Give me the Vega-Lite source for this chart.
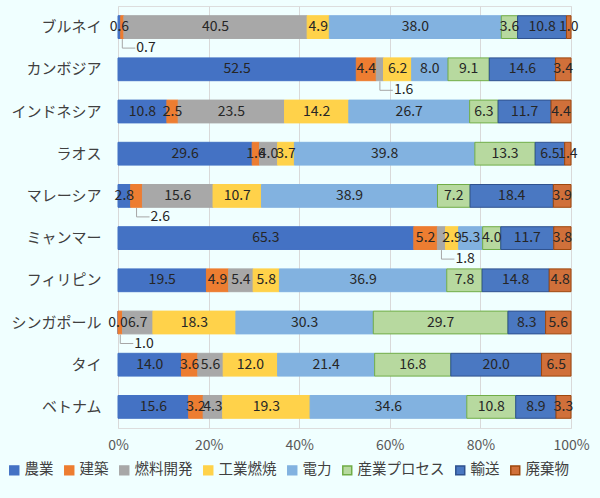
{
  "$schema": "https://vega.github.io/schema/vega-lite/v6.json",
  "width": 453,
  "height": 422,
  "autosize": "none",
  "padding": {"left": 118, "top": 6, "right": 29, "bottom": 70},
  "background": "#F0FFFF",
  "data": {
    "values": [
      {"country": "ブルネイ", "農業": 0.6, "建築": 0.7, "燃料開発": 40.5, "工業燃焼": 4.9, "電力": 38.0, "産業プロセス": 3.6, "輸送": 10.8, "廃棄物": 1.0},
      {"country": "カンボジア", "農業": 52.5, "建築": 4.4, "燃料開発": 1.6, "工業燃焼": 6.2, "電力": 8.0, "産業プロセス": 9.1, "輸送": 14.6, "廃棄物": 3.4},
      {"country": "インドネシア", "農業": 10.8, "建築": 2.5, "燃料開発": 23.5, "工業燃焼": 14.2, "電力": 26.7, "産業プロセス": 6.3, "輸送": 11.7, "廃棄物": 4.4},
      {"country": "ラオス", "農業": 29.6, "建築": 1.6, "燃料開発": 4.0, "工業燃焼": 3.7, "電力": 39.8, "産業プロセス": 13.3, "輸送": 6.5, "廃棄物": 1.4},
      {"country": "マレーシア", "農業": 2.8, "建築": 2.6, "燃料開発": 15.6, "工業燃焼": 10.7, "電力": 38.9, "産業プロセス": 7.2, "輸送": 18.4, "廃棄物": 3.9},
      {"country": "ミャンマー", "農業": 65.3, "建築": 5.2, "燃料開発": 1.8, "工業燃焼": 2.9, "電力": 5.3, "産業プロセス": 4.0, "輸送": 11.7, "廃棄物": 3.8},
      {"country": "フィリピン", "農業": 19.5, "建築": 4.9, "燃料開発": 5.4, "工業燃焼": 5.8, "電力": 36.9, "産業プロセス": 7.8, "輸送": 14.8, "廃棄物": 4.8},
      {"country": "シンガポール", "農業": 0.0, "建築": 1.0, "燃料開発": 6.7, "工業燃焼": 18.3, "電力": 30.3, "産業プロセス": 29.7, "輸送": 8.3, "廃棄物": 5.6},
      {"country": "タイ", "農業": 14.0, "建築": 3.6, "燃料開発": 5.6, "工業燃焼": 12.0, "電力": 21.4, "産業プロセス": 16.8, "輸送": 20.0, "廃棄物": 6.5},
      {"country": "ベトナム", "農業": 15.6, "建築": 3.2, "燃料開発": 4.3, "工業燃焼": 19.3, "電力": 34.6, "産業プロセス": 10.8, "輸送": 8.9, "廃棄物": 3.3}
    ]
  },
  "transform": [
    {"fold": ["農業", "建築", "燃料開発", "工業燃焼", "電力", "産業プロセス", "輸送", "廃棄物"], "as": ["key", "value"]},
    {"calculate": "indexof(['農業','建築','燃料開発','工業燃焼','電力','産業プロセス','輸送','廃棄物'], datum.key)", "as": "order"},
    {"stack": "value", "groupby": ["country"], "sort": [{"field": "order"}], "offset": "normalize", "as": ["x0", "x1"]},
    {"calculate": "(datum.x0 + datum.x1) / 2", "as": "mid"},
    {"calculate": "indexof(['ブルネイ|建築','カンボジア|燃料開発','マレーシア|建築','ミャンマー|燃料開発','シンガポール|建築'], datum.country + '|' + datum.key) >= 0", "as": "callout"}
  ],
  "encoding": {
    "y": {
      "field": "country",
      "type": "nominal",
      "sort": ["ブルネイ", "カンボジア", "インドネシア", "ラオス", "マレーシア", "ミャンマー", "フィリピン", "シンガポール", "タイ", "ベトナム"],
      "scale": {"paddingInner": 0.46, "paddingOuter": 0.23},
      "axis": {"title": null, "domain": false, "ticks": false, "labelPadding": 17, "labelFontSize": 15, "labelColor": "#404040", "labelFont": "Noto Sans CJK JP"}
    }
  },
  "layer": [
    {
      "mark": {"type": "bar", "strokeWidth": 1},
      "encoding": {
        "x": {
          "field": "x0",
          "type": "quantitative",
          "scale": {"domain": [0, 1], "nice": false},
          "axis": {"title": null, "format": "%", "values": [0, 0.2, 0.4, 0.6, 0.8, 1], "domain": false, "ticks": false, "grid": true, "gridColor": "#D9D9D9", "labelPadding": 10, "labelFontSize": 14, "labelColor": "#595959", "labelFont": "Noto Sans CJK JP", "labelFlush": false, "labelBound": false}
        },
        "x2": {"field": "x1"},
        "color": {
          "field": "key",
          "type": "nominal",
          "sort": ["農業", "建築", "燃料開発", "工業燃焼", "電力", "産業プロセス", "輸送", "廃棄物"],
          "scale": {
            "domain": ["農業", "建築", "燃料開発", "工業燃焼", "電力", "産業プロセス", "輸送", "廃棄物"],
            "range": ["#4472C4", "#ED7D31", "#A8A8A8", "#FFD24A", "#82B2E0", "#B7D99F", "#4A78C2", "#D0703A"]
          },
          "legend": {
            "title": null,
            "orient": "none",
            "legendX": -111,
            "legendY": 457,
            "direction": "horizontal",
            "columns": 8,
            "columnPadding": 7,
            "symbolType": "square",
            "symbolSize": 80,
            "labelFontSize": 14.5,
            "labelColor": "#404040",
            "labelFont": "Noto Sans CJK JP",
            "labelOffset": 3
          }
        },
        "stroke": {
          "field": "key",
          "type": "nominal",
          "scale": {
            "domain": ["農業", "建築", "燃料開発", "工業燃焼", "電力", "産業プロセス", "輸送", "廃棄物"],
            "range": ["#4472C4", "#ED7D31", "#A8A8A8", "#FFD24A", "#82B2E0", "#70AD47", "#2F528F", "#9E480E"]
          },
          "legend": null
        }
      }
    },
    {
      "transform": [{"filter": "!datum.callout"}],
      "mark": {"type": "text", "fontSize": 14, "font": "Noto Sans CJK JP", "color": "#262626"},
      "encoding": {
        "x": {"field": "mid", "type": "quantitative"},
        "text": {"field": "value", "type": "quantitative", "format": ".1f"}
      }
    },
    {
      "transform": [{"filter": "datum.callout"}],
      "mark": {"type": "rule", "color": "#A6A6A6", "yOffset": 12, "y2Offset": 21},
      "encoding": {
        "x": {"field": "mid", "type": "quantitative"},
        "y2": {"field": "country"}
      }
    },
    {
      "transform": [{"filter": "datum.callout"}],
      "mark": {"type": "rule", "color": "#A6A6A6", "yOffset": 21, "x2Offset": 13},
      "encoding": {
        "x": {"field": "mid", "type": "quantitative"},
        "x2": {"field": "mid"}
      }
    },
    {
      "transform": [{"filter": "datum.callout"}],
      "mark": {"type": "text", "fontSize": 14, "font": "Noto Sans CJK JP", "color": "#262626", "align": "left", "dx": 14, "dy": 21},
      "encoding": {
        "x": {"field": "mid", "type": "quantitative"},
        "text": {"field": "value", "type": "quantitative", "format": ".1f"}
      }
    }
  ]
}
